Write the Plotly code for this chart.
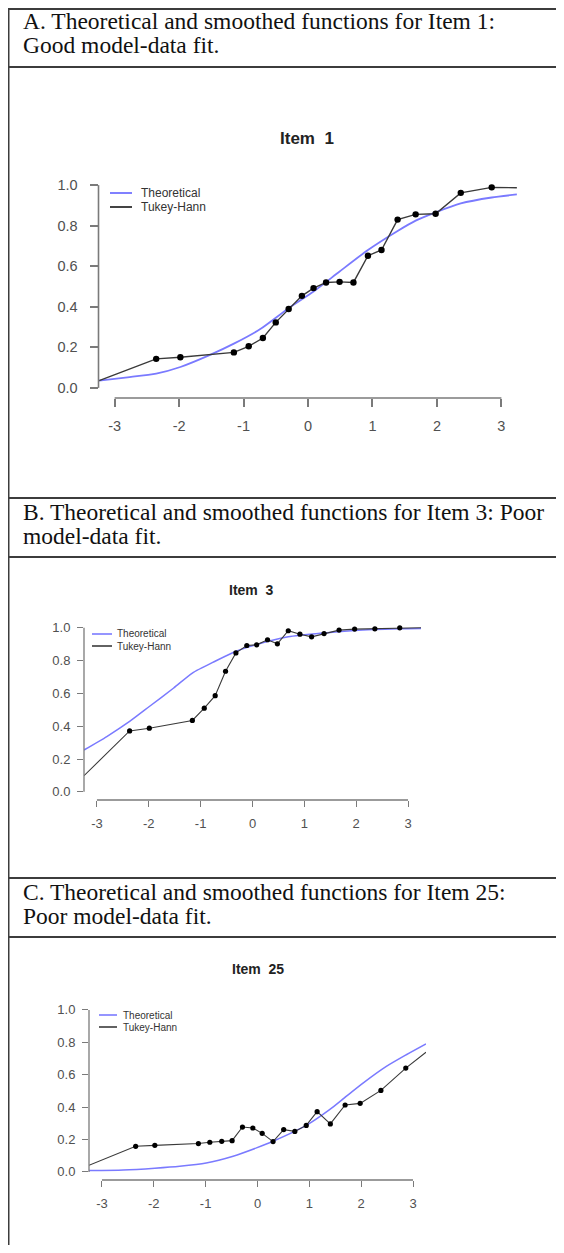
import plotly.graph_objects as go

# ---------------- data ----------------
x_ticks = [-3, -2, -1, 0, 1, 2, 3]
x_tick_labels = ["-3", "-2", "-1", "0", "1", "2", "3"]
y_ticks = [0.0, 0.2, 0.4, 0.6, 0.8, 1.0]
y_tick_labels = ["0.0", "0.2", "0.4", "0.6", "0.8", "1.0"]

# Item 1
a_theo_x = [-3.24, -2.8, -2.355, -1.98, -1.51, -1.15, -0.74, -0.30, 0.086, 0.49, 0.93, 1.39, 1.67, 1.98, 2.37, 2.85, 3.24]
a_theo_y = [0.036, 0.052, 0.070, 0.103, 0.164, 0.218, 0.290, 0.393, 0.475, 0.574, 0.680, 0.774, 0.825, 0.866, 0.910, 0.939, 0.954]
a_th_x = [-3.24, -2.355, -1.98, -1.15, -0.92, -0.70, -0.50, -0.30, -0.095, 0.086, 0.28, 0.49, 0.705, 0.93, 1.14, 1.39, 1.67, 1.98, 2.37, 2.85, 3.24]
a_th_y = [0.036, 0.143, 0.151, 0.175, 0.205, 0.246, 0.323, 0.389, 0.454, 0.492, 0.520, 0.523, 0.520, 0.652, 0.680, 0.830, 0.856, 0.859, 0.962, 0.989, 0.987]

# Item 3
b_theo_x = [-3.25, -2.81, -2.37, -1.99, -1.52, -1.16, -0.72, -0.32, 0.08, 0.69, 1.38, 1.97, 2.84, 3.25]
b_theo_y = [0.255, 0.337, 0.429, 0.520, 0.633, 0.724, 0.796, 0.857, 0.898, 0.945, 0.969, 0.984, 0.994, 0.996]
b_th_x = [-3.25, -2.37, -1.99, -1.16, -0.93, -0.72, -0.52, -0.32, -0.11, 0.08, 0.29, 0.48, 0.69, 0.915, 1.14, 1.38, 1.67, 1.97, 2.36, 2.84, 3.25]
b_th_y = [0.098, 0.371, 0.388, 0.435, 0.510, 0.586, 0.735, 0.847, 0.892, 0.896, 0.927, 0.902, 0.982, 0.961, 0.945, 0.965, 0.986, 0.992, 0.994, 1.000, 1.000]

# Item 25
c_theo_x = [-3.25, -2.59, -1.98, -1.50, -0.99, -0.47, -0.02, 0.30, 0.94, 1.39, 1.71, 2.035, 2.485, 2.87, 3.25]
c_theo_y = [0.008, 0.012, 0.023, 0.035, 0.055, 0.097, 0.148, 0.189, 0.287, 0.384, 0.466, 0.548, 0.651, 0.723, 0.790]
c_th_x = [-3.25, -2.35, -1.98, -1.14, -0.92, -0.69, -0.49, -0.29, -0.09, 0.09, 0.30, 0.505, 0.72, 0.94, 1.15, 1.405, 1.69, 1.98, 2.38, 2.86, 3.25]
c_th_y = [0.041, 0.158, 0.164, 0.175, 0.183, 0.189, 0.193, 0.277, 0.271, 0.238, 0.187, 0.261, 0.250, 0.287, 0.372, 0.296, 0.413, 0.423, 0.503, 0.641, 0.739]

headers = [
    ("A. Theoretical and smoothed functions for Item 1:", "Good model-data fit."),
    ("B. Theoretical and smoothed functions for Item 3: Poor", "model-data fit."),
    ("C. Theoretical and smoothed functions for Item 25:", "Poor model-data fit."),
]
titles = ["Item  1", "Item  3", "Item  25"]
legend_names = ["Theoretical", "Tukey-Hann"]

# ---------------- layout helpers ----------------
W, H = 548, 1237
OFF = 8


def px(x):
    return (x - OFF) / W


def py(y):
    return 1 - (y - OFF) / H


THEO_COL = "#7a7aff"
TH_COL = "#3a3a3a"
AX_COL = "#7a7a7a"
LBL_COL = "#505050"
FONT = "Arial, Liberation Sans, sans-serif"
SERIF = "Times New Roman, Liberation Serif, serif"

panels = [
    dict(theo=(a_theo_x, a_theo_y), th=(a_th_x, a_th_y), xl=98.5, xr=517.5, yt=175, yb=398,
         tfs=14.5, titfs=17, title_xy=(307, 138), tl=8, lw=1.6, xso=7, yso=9,
         leg=dict(x0=110, x1=132, rows=(193, 207), tx=139, fs=12),
         hdr=(9, 67, 21.5, 45)),
    dict(theo=(b_theo_x, b_theo_y), th=(b_th_x, b_th_y), xl=84, xr=421, yt=619.6, yb=800,
         tfs=13, titfs=14, title_xy=(251, 590), tl=6, lw=1.3, xso=5, yso=4,
         leg=dict(x0=92, x1=112, rows=(634, 646), tx=115, fs=10),
         hdr=(498, 557, 512, 536)),
    dict(theo=(c_theo_x, c_theo_y), th=(c_th_x, c_th_y), xl=89, xr=426, yt=1001.8, yb=1180,
         tfs=13, titfs=14, title_xy=(258, 969), tl=6, lw=1.3, xso=5, yso=4,
         leg=dict(x0=99, x1=117, rows=(1015, 1027), tx=121, fs=10),
         hdr=(878, 937, 892, 916)),
]

fig = go.Figure()
shapes = []
annotations = []
layout = {}

for i, p in enumerate(panels):
    n = "" if i == 0 else str(i + 1)
    xa, ya = "x" + n, "y" + n
    fig.add_trace(go.Scatter(x=p["theo"][0], y=p["theo"][1], mode="lines",
                             line=dict(color=THEO_COL, width=p["lw"] + 0.2, shape="spline", smoothing=0.6),
                             name=legend_names[0], showlegend=False, xaxis=xa, yaxis=ya))
    fig.add_trace(go.Scatter(x=p["th"][0], y=p["th"][1], mode="lines",
                             line=dict(color=TH_COL, width=p["lw"] - 0.2),
                             name=legend_names[1], showlegend=False, xaxis=xa, yaxis=ya))
    fig.add_trace(go.Scatter(x=p["th"][0][1:-1], y=p["th"][1][1:-1], mode="markers",
                             marker=dict(color="black", size=p["lw"] * 4),
                             name=legend_names[1], showlegend=False, xaxis=xa, yaxis=ya))
    layout["xaxis" + n] = dict(domain=[px(p["xl"]), px(p["xr"])], range=[-3.25, 3.25], anchor=ya,
                               tickvals=x_ticks, ticktext=x_tick_labels, ticks="outside",
                               ticklen=p["tl"], tickwidth=p["lw"], tickcolor=AX_COL,
                               showgrid=False, zeroline=False, showline=False,
                               tickfont=dict(family=FONT, size=p["tfs"], color=LBL_COL),
                               ticklabelstandoff=p["xso"])
    layout["yaxis" + n] = dict(domain=[py(p["yb"]), py(p["yt"])], range=[-0.05, 1.05], anchor=xa,
                               tickvals=y_ticks, ticktext=y_tick_labels, ticks="outside",
                               ticklen=p["tl"], tickwidth=p["lw"], tickcolor=AX_COL,
                               showgrid=False, zeroline=False, showline=False,
                               tickfont=dict(family=FONT, size=p["tfs"], color=LBL_COL),
                               ticklabelstandoff=p["yso"])
    # R-style axis lines spanning first to last tick
    shapes.append(dict(type="line", xref=xa, yref=ya + " domain", x0=-3, x1=3, y0=0, y1=0,
                       line=dict(color=AX_COL, width=p["lw"])))
    shapes.append(dict(type="line", xref=xa + " domain", yref=ya, x0=0, x1=0, y0=0, y1=1,
                       line=dict(color=AX_COL, width=p["lw"])))
    # title
    annotations.append(dict(text="<b>" + titles[i] + "</b>", xref="paper", yref="paper",
                            x=px(p["title_xy"][0]), y=py(p["title_xy"][1]), showarrow=False,
                            xanchor="center", yanchor="middle",
                            font=dict(family=FONT, size=p["titfs"], color="#222222")))
    # legend
    lg = p["leg"]
    for name, col, ry in zip(legend_names, [THEO_COL, TH_COL], lg["rows"]):
        shapes.append(dict(type="line", xref="paper", yref="paper", x0=px(lg["x0"]), x1=px(lg["x1"]),
                           y0=py(ry), y1=py(ry), line=dict(color=col, width=p["lw"] + 0.3)))
        annotations.append(dict(text=name, xref="paper", yref="paper", x=px(lg["tx"]), y=py(ry),
                                showarrow=False, xanchor="left", yanchor="middle",
                                font=dict(family=FONT, size=lg["fs"], color="#333333")))
    # table header
    top, bot, l1, l2 = p["hdr"]
    for yy in (top, bot):
        shapes.append(dict(type="line", xref="paper", yref="paper", x0=px(8), x1=px(600),
                           y0=py(yy), y1=py(yy), line=dict(color="#3c3c3c", width=2)))
    for txt, yy in zip(headers[i], (l1, l2)):
        annotations.append(dict(text=txt, xref="paper", yref="paper", x=px(21), y=py(yy),
                                showarrow=False, xanchor="left", yanchor="middle",
                                font=dict(family=SERIF, size=23.5, color="#111111")))

# left table border
shapes.append(dict(type="line", xref="paper", yref="paper", x0=px(8.5), x1=px(8.5),
                   y0=py(9), y1=py(1260), line=dict(color="#3c3c3c", width=2)))

fig.update_layout(width=W, height=H, margin=dict(l=0, r=0, t=0, b=0),
                  paper_bgcolor="white", plot_bgcolor="white", showlegend=False,
                  shapes=shapes, annotations=annotations, **layout)

fig.write_html("out.html")
